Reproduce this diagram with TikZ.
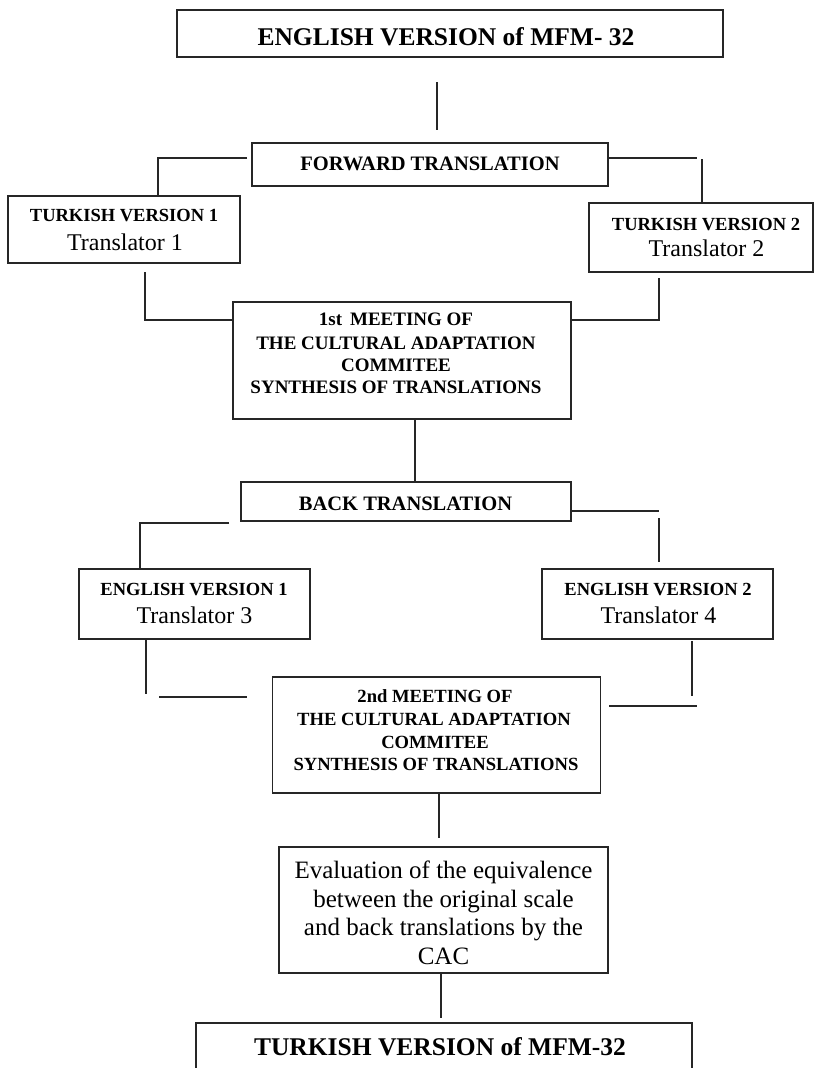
\documentclass[tikz,border=0pt]{standalone}
\usepackage{fontspec}
\setmainfont{Liberation Serif}
\begin{document}
\begin{tikzpicture}[x=1pt,y=-1pt,
  box/.style={draw=black!85,line width=1.1pt,inner sep=0pt},
  conn/.style={draw=black!85,line width=1.1pt},
  txt/.style={anchor=base,inner sep=0pt},
  bigb/.style={txt,font=\fontsize{25.5}{30}\selectfont\bfseries},
  midb/.style={txt,font=\fontsize{20.5}{24}\selectfont\bfseries},
  verb/.style={txt,font=\fontsize{18.5}{22}\selectfont\bfseries},
  meetb/.style={txt,font=\fontsize{19}{22}\selectfont\bfseries},
  meettwo/.style={txt,font=\fontsize{18.6}{22}\selectfont\bfseries},
  trans/.style={txt,font=\fontsize{24}{28}\selectfont},
  evalt/.style={txt,font=\fontsize{25}{29}\selectfont}]
\useasboundingbox (0,0) rectangle (814,1068);
\fill[white] (0,0) rectangle (814,1068);
% boxes
\node[box,minimum width=546pt,minimum height=47pt] (top) at (450,33.5) {};
\node[box,minimum width=356pt,minimum height=43pt] (fwd) at (430,164.5) {};
\node[box,minimum width=232pt,minimum height=67pt] (tv1) at (124,229.5) {};
\node[box,minimum width=224pt,minimum height=69pt] (tv2) at (701,237.5) {};
\node[box,minimum width=338pt,minimum height=117pt] (m1) at (402,360.5) {};
\node[box,minimum width=330pt,minimum height=39pt] (back) at (406,501.5) {};
\node[box,minimum width=231pt,minimum height=70pt] (ev1) at (194.5,604) {};
\node[box,minimum width=231pt,minimum height=70pt] (ev2) at (657.5,604) {};
\node[box,minimum width=328pt,minimum height=116pt] (m2) at (436.5,735) {};
\node[box,minimum width=329pt,minimum height=126pt] (eval) at (443.5,910) {};
\node[box,minimum width=496pt,minimum height=100pt] (turk) at (444,1073) {};
% texts
\node[bigb] (topT) at (446,45) {ENGLISH VERSION of MFM- 32};
\node[midb] (fwdT) at (430,170) {FORWARD TRANSLATION};
\node[verb] (tv1a) at (124,221.7) {TURKISH VERSION 1};
\node[trans] (tv1b) at (125,250) {Translator 1};
\node[verb] (tv2a) at (706,230) {TURKISH VERSION 2};
\node[trans] (tv2b) at (706.5,256.5) {Translator 2};
\node[meetb] (m1a) at (396,325) {1st\, MEETING OF};
\node[meetb] (m1b) at (396,349) {THE CULTURAL ADAPTATION};
\node[meetb] (m1c) at (396,371) {COMMITEE};
\node[meetb] (m1d) at (396,393) {SYNTHESIS OF TRANSLATIONS};
\node[midb] (backT) at (405.5,510) {BACK TRANSLATION};
\node[verb] (ev1a) at (194,595) {ENGLISH VERSION 1};
\node[trans] (ev1b) at (194.5,623) {Translator 3};
\node[verb] (ev2a) at (658,595) {ENGLISH VERSION 2};
\node[trans] (ev2b) at (658.5,623) {Translator 4};
\node[meettwo] (m2a) at (435,702.5) {2nd MEETING OF};
\node[meettwo] (m2b) at (434,725.5) {THE CULTURAL ADAPTATION};
\node[meettwo] (m2c) at (435,748) {COMMITEE};
\node[meettwo] (m2d) at (436,770.5) {SYNTHESIS OF TRANSLATIONS};
\node[evalt] (eva) at (443.5,878.3) {Evaluation of the equivalence};
\node[evalt] (evb) at (443.5,907) {between the original scale};
\node[evalt] (evc) at (443.5,935.7) {and back translations by the};
\node[evalt] (evd) at (443.5,964.3) {CAC};
\node[bigb] (turkT) at (440,1055) {TURKISH VERSION of MFM-32};
% connector coordinates
\coordinate (c1a) at (437,82);
\coordinate (c1b) at (437,130);
\coordinate (c2a) at (247,158);
\coordinate (c2b) at (158,158);
\coordinate (c3a) at (608,158);
\coordinate (c3b) at (697,158);
\coordinate (c3c) at (702,159);
\coordinate (c4a) at (145,272);
\coordinate (c4b) at (145,320);
\coordinate (c5a) at (659,278);
\coordinate (c5b) at (659,320);
\coordinate (c6) at (415,0);
\coordinate (c7a) at (229,523);
\coordinate (c7b) at (140,523);
\coordinate (c8a) at (571,511);
\coordinate (c8b) at (659,511);
\coordinate (c8c) at (659,518);
\coordinate (c8d) at (659,562);
\coordinate (c9a) at (146,0);
\coordinate (c9b) at (146,694);
\coordinate (c9c) at (159,697);
\coordinate (c9d) at (247,697);
\coordinate (c10a) at (692,641);
\coordinate (c10b) at (692,696);
\coordinate (c10c) at (609,706);
\coordinate (c10d) at (697,706);
\coordinate (c11a) at (439,0);
\coordinate (c11b) at (439,838);
\coordinate (c12a) at (441,0);
\coordinate (c12b) at (441,1018);
% connectors
\draw[conn] (c1a) -- (c1b);
\draw[conn] (c2a) -- (c2b) -- (c2b |- tv1.north);
\draw[conn] (c3a) -- (c3b);
\draw[conn] (c3c) -- (c3c |- tv2.north);
\draw[conn] (c4a) -- (c4b) -- (c4b -| m1.west);
\draw[conn] (c5a) -- (c5b) -- (c5b -| m1.east);
\draw[conn] (c6 |- m1.south) -- (c6 |- back.north);
\draw[conn] (c7a) -- (c7b) -- (c7b |- ev1.north);
\draw[conn] (c8a) -- (c8b);
\draw[conn] (c8c) -- (c8d);
\draw[conn] (c9a |- ev1.south) -- (c9b);
\draw[conn] (c9c) -- (c9d);
\draw[conn] (c10a) -- (c10b);
\draw[conn] (c10c) -- (c10d);
\draw[conn] (c11a |- m2.south) -- (c11b);
\draw[conn] (c12a |- eval.south) -- (c12b);
\end{tikzpicture}
\end{document}
